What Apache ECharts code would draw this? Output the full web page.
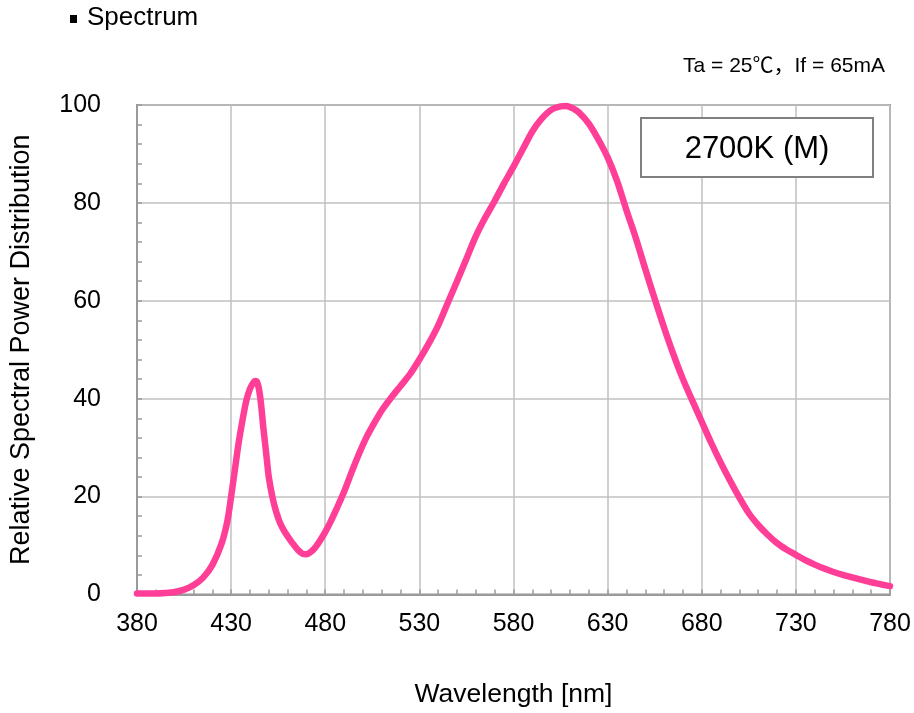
<!DOCTYPE html>
<html>
<head>
<meta charset="utf-8">
<script src="https://cdn.jsdelivr.net/npm/echarts@6/dist/echarts.min.js"></script>
<style>
html,body{margin:0;padding:0;background:#fff;}
#chart{width:914px;height:713px;}
</style>
</head>
<body>
<div id="chart"></div>
<script>
// Wavelength (nm)
var wavelengths = [380,390,395,400,405,410,415,420,425,428,430,432,434,436,438,440,442,443,444,445,446,447,448,449,450,452,454,456,458,460,462,464,466,468,470,472,474,476,478,480,483,486,490,494,498,502,506,510,515,520,525,530,535,540,545,550,555,560,565,570,575,580,585,590,595,600,605,608,612,615,620,625,630,635,640,645,650,655,660,665,670,675,680,685,690,695,700,705,710,715,720,725,730,735,740,745,750,755,760,765,770,775,780];
// Relative spectral power (%)
var power = [0.2,0.2,0.3,0.5,1.0,1.9,3.4,6.0,10.5,15,20,25.5,31,35.5,39.5,42,43.4,43.6,43.2,41.5,38.5,34.5,31,27.5,24,19.8,16.8,14.6,13.1,11.9,10.8,9.8,8.9,8.3,8.2,8.6,9.3,10.3,11.5,12.8,15,17.5,21,25,28.8,32.2,35,37.6,40.2,42.6,45,48,51.3,55,59.5,64,68.6,73.2,77,80.4,84,87.4,91,94.6,97.2,99,99.7,99.8,99.2,98.4,96.2,93,89.3,84.5,78.5,72.8,66.5,60.4,54.5,49,44,39.6,35.3,31,27,23.3,19.8,16.6,14.2,12.2,10.5,9.2,8.1,7,6.1,5.3,4.6,4,3.5,3,2.5,2.1,1.7];
var xTicks = [380,430,480,530,580,630,680,730,780];
var yTicks = [0,20,40,60,80,100];

var pairs = wavelengths.map(function(w,i){return [w, power[i]];});
var chart = echarts.init(document.getElementById('chart'));
var font = '"Liberation Sans", Arial, "Noto Sans CJK JP", sans-serif';
var axisGray = '#9a9a9a';
chart.setOption({
  animation:false,
  backgroundColor:'#fff',
  grid:{left:136,right:24,top:105,bottom:118,show:true,borderColor:axisGray,borderWidth:2,backgroundColor:'transparent'},
  xAxis:{
    type:'value',min:xTicks[0],max:xTicks[xTicks.length-1],interval:50,
    name:'Wavelength [nm]',nameLocation:'middle',nameGap:87,
    nameTextStyle:{fontFamily:font,fontSize:26.5,color:'#000'},
    axisLine:{show:true,lineStyle:{color:axisGray,width:2}},
    axisTick:{show:true,inside:true,length:5,lineStyle:{color:axisGray,width:1.5}},
    minorTick:{show:true,splitNumber:5,length:5,lineStyle:{color:axisGray,width:1.5}},
    splitLine:{show:true,lineStyle:{color:'#c0c0c0',width:1.5}},
    axisLabel:{fontFamily:font,fontSize:25,color:'#000',margin:17}
  },
  yAxis:{
    type:'value',min:yTicks[0],max:yTicks[yTicks.length-1],interval:20,
    name:'Relative Spectral Power Distribution',nameLocation:'middle',nameGap:102,nameRotate:90,
    nameTextStyle:{fontFamily:font,fontSize:27,color:'#000'},
    axisLine:{show:true,lineStyle:{color:axisGray,width:2}},
    axisTick:{show:true,inside:true,length:5,lineStyle:{color:axisGray,width:1.5}},
    minorTick:{show:true,splitNumber:5,length:5,lineStyle:{color:axisGray,width:1.5}},
    splitLine:{show:true,lineStyle:{color:'#c0c0c0',width:1.5}},
    axisLabel:{fontFamily:font,fontSize:25,color:'#000',margin:36}
  },
  series:[{
    type:'line',data:pairs,showSymbol:false,smooth:0.3,clip:false,
    lineStyle:{color:'#ff3f97',width:6.5,cap:'round',join:'round'},
    z:5
  }],
  graphic:[
    {type:'rect',left:70,top:15,shape:{width:7,height:8},style:{fill:'#000'}},
    {type:'text',x:87,y:18,style:{text:'Spectrum',font:'26px '+font,fill:'#000',textVerticalAlign:'middle'}},
    {type:'text',x:885,y:66,style:{text:'Ta = 25℃，If = 65mA',font:'21px '+font,fill:'#000',textAlign:'right',textVerticalAlign:'middle'}},
    {type:'rect',shape:{x:641,y:118,width:232,height:59},style:{fill:'#fff',stroke:'#808080',lineWidth:2},z:10},
    {type:'text',x:757,y:149,style:{text:'2700K (M)',font:'31px '+font,fill:'#000',textAlign:'center',textVerticalAlign:'middle'},z:11}
  ]
});
</script>
</body>
</html>
